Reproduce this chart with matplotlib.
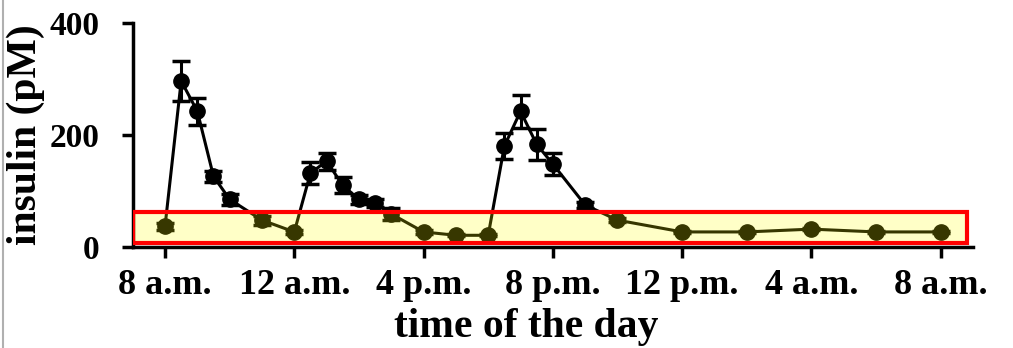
import matplotlib.pyplot as plt
from matplotlib.patches import Rectangle
from matplotlib.lines import Line2D

# hours after midnight (8 = 8 a.m. of day 1, 32 = 8 a.m. of day 2)
hours = [8, 8.5, 9, 9.5, 10, 11, 12, 12.5, 13, 13.5, 14, 14.5, 15, 16, 17, 18,
         18.5, 19, 19.5, 20, 21, 22, 24, 26, 28, 30, 32]
insulin = [37, 296, 242, 126, 85, 48, 27, 132, 153, 110, 85, 78, 59, 27, 21, 21,
           180, 242, 183, 148, 75, 48, 27, 27, 32, 27, 27]
sem = [6, 36, 24, 10, 10, 8, 3, 19, 15, 14, 8, 7, 10, 3, 2, 2,
       23, 29, 28, 20, 5, 3, 2, 2, 2, 2, 2]

tick_hours = [8, 12, 16, 20, 24, 28, 32]
tick_labels = ["8 a.m.", "12 a.m.", "4 p.m.", "8 p.m.", "12 p.m.", "4 a.m.", "8 a.m."]

plt.rcParams['font.family'] = ['Liberation Serif', 'DejaVu Serif']
plt.rcParams['font.weight'] = 'bold'

fig = plt.figure(figsize=(10.13, 3.48), dpi=100)
ax = fig.add_axes([0.131, 0.29, 0.8295, 0.645])

ax.errorbar(hours, insulin, yerr=sem, color='black', linewidth=2.2,
            marker='o', markersize=11, elinewidth=2.2, capsize=6.5, capthick=2.5)

# highlighted baseline band
band = Rectangle((7.0, 7), 25.82, 56, facecolor=(1, 1, 0, 0.22),
                 edgecolor='red', linewidth=3, zorder=5)
ax.add_patch(band)

ax.set_xlim(7, 33)
ax.set_ylim(0, 400)
ax.set_xticks(tick_hours)
ax.set_xticklabels(tick_labels)
ax.set_yticks([0, 200, 400])

for s in ['top', 'right']:
    ax.spines[s].set_visible(False)
for s in ['left', 'bottom']:
    ax.spines[s].set_linewidth(2.5)
ax.tick_params(width=2.5, length=8)
ax.tick_params(axis='x', labelsize=26, pad=8)
ax.tick_params(axis='y', labelsize=24, pad=16)

ax.set_ylabel('insulin (pM)', fontsize=30, fontweight='bold', labelpad=3)
ax.set_xlabel('time of the day', fontsize=30, fontweight='bold', labelpad=6)
ax.xaxis.set_label_coords(0.468, -0.27, transform=ax.transAxes)
ax.xaxis.label.set_va('top')

# thin grey frame line at the left edge of the picture
fig.add_artist(Line2D([0.003, 0.003], [0, 1], color='#b0b0b0', linewidth=1.5,
                      transform=fig.transFigure))

fig.savefig('out.png', dpi=100)
